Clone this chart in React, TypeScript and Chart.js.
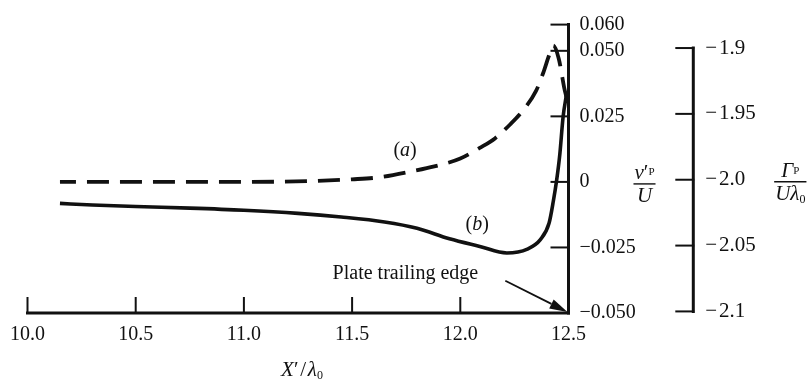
import React, { useEffect, useRef } from "react";
import { Chart, registerables } from "chart.js";

Chart.register(...registerables);

// Horizontal position X'/λ0 and tick values
const xTicks = [10.0, 10.5, 11.0, 11.5, 12.0, 12.5];

// Inner vertical axis: v'_P / U
const vTicks = [-0.05, -0.025, 0, 0.025, 0.05, 0.06];
const vTickLabels = ["−0.050", "−0.025", "0", "0.025", "0.050", "0.060"];

// Outer vertical axis: Γ_P / (U λ0)
const gammaTicks = [-2.1, -2.05, -2.0, -1.95, -1.9];
const gammaTickLabels = ["−\u200a2.1", "−\u200a2.05", "−\u200a2.0", "−\u200a1.95", "−\u200a1.9"];
const gammaMin = -2.1012;
const gammaMax = -1.8822;

// Curve (a), dashed
const curveAX = [10.15, 10.5, 11.0, 11.3, 11.5, 11.63, 11.78, 11.88, 12.0, 12.09, 12.16, 12.23, 12.29, 12.35, 12.385, 12.41, 12.43, 12.455, 12.48, 12.49];
const curveAV = [0, 0, 0, 0.0003, 0.001, 0.0018, 0.0041, 0.0059, 0.0089, 0.013, 0.0166, 0.0219, 0.0273, 0.0347, 0.042, 0.0482, 0.052, 0.047, 0.036, 0.0324];

// Curve (b), solid
const curveBX = [10.15, 10.3, 10.5, 10.75, 11.0, 11.25, 11.45, 11.65, 11.8, 11.95, 12.09, 12.215, 12.31, 12.37, 12.41, 12.43, 12.445, 12.46, 12.475, 12.49];
const curveBV = [-0.0082, -0.0088, -0.0094, -0.01, -0.0108, -0.012, -0.0134, -0.0153, -0.0177, -0.0217, -0.0246, -0.0271, -0.0256, -0.022, -0.0158, -0.0073, 0.0005, 0.0106, 0.0248, 0.033];

// Annotation anchors in data coordinates
const labelA = { x: 11.745, v: 0.0118 };
const labelB = { x: 12.078, v: -0.0165 };
const edgeText = { x: 11.41, v: -0.037 };
const arrowFrom = { x: 12.208, v: -0.0377 };
const arrowTo = { x: 12.5, v: -0.05 };

const SERIF = '"Liberation Serif", "Times New Roman", serif';
const font = (size: number, italic = false) => `${italic ? "italic " : ""}${size}px ${SERIF}`;
const INK = "#111";

type Run = { t: string; f: string; dy?: number };

function runsWidth(ctx: CanvasRenderingContext2D, runs: Run[]) {
  let w = 0;
  for (const r of runs) {
    ctx.font = r.f;
    w += ctx.measureText(r.t).width;
  }
  return w;
}

function drawRuns(ctx: CanvasRenderingContext2D, runs: Run[], x: number, y: number) {
  let cx = x;
  for (const r of runs) {
    ctx.font = r.f;
    ctx.fillText(r.t, cx, y + (r.dy || 0));
    cx += ctx.measureText(r.t).width;
  }
}

function drawFraction(ctx: CanvasRenderingContext2D, cx: number, barY: number, num: Run[], den: Run[]) {
  const wn = runsWidth(ctx, num);
  const wd = runsWidth(ctx, den);
  const half = Math.max(wn, wd) / 2 + 1;
  drawRuns(ctx, num, cx - wn / 2, barY - 5);
  drawRuns(ctx, den, cx - wd / 2, barY + 18);
  ctx.lineWidth = 1.4;
  ctx.beginPath();
  ctx.moveTo(cx - half, barY);
  ctx.lineTo(cx + half, barY);
  ctx.stroke();
}

function seg(ctx: CanvasRenderingContext2D, x1: number, y1: number, x2: number, y2: number) {
  ctx.beginPath();
  ctx.moveTo(x1, y1);
  ctx.lineTo(x2, y2);
  ctx.stroke();
}

const framePlugin = {
  id: "frame",
  afterDraw(chart: any) {
    const ctx: CanvasRenderingContext2D = chart.ctx;
    const xs = chart.scales.x;
    const ys = chart.scales.y;
    const gs = chart.scales.g;
    ctx.save();
    ctx.strokeStyle = INK;
    ctx.fillStyle = INK;
    ctx.lineCap = "square";

    const yBase = ys.getPixelForValue(-0.05);
    const yTop = ys.getPixelForValue(0.06);
    const xL = xs.getPixelForValue(10);
    const xR = xs.getPixelForValue(12.5);

    // bottom axis with inward ticks
    ctx.lineWidth = 3;
    seg(ctx, xL, yBase, xR, yBase);
    ctx.lineWidth = 2;
    for (const v of xTicks) {
      const px = xs.getPixelForValue(v);
      seg(ctx, px, yBase, px, yBase - 15);
    }

    // v'/U axis
    ctx.lineWidth = 3;
    seg(ctx, xR, yTop, xR, yBase);
    ctx.lineWidth = 2;
    for (const v of vTicks) {
      const py = ys.getPixelForValue(v);
      seg(ctx, xR, py, xR - 17, py);
    }

    // Γ axis (bracket)
    const gx = gs.left;
    ctx.lineWidth = 3;
    seg(ctx, gx, gs.getPixelForValue(-1.9), gx, gs.getPixelForValue(-2.1));
    ctx.lineWidth = 2;
    for (const v of gammaTicks) {
      const py = gs.getPixelForValue(v);
      seg(ctx, gx, py, gx - 17, py);
    }

    // curve labels
    ctx.textBaseline = "middle";
    const ra: Run[] = [
      { t: "(", f: font(20) },
      { t: "a", f: font(20, true) },
      { t: ")", f: font(20) },
    ];
    drawRuns(ctx, ra, xs.getPixelForValue(labelA.x) - runsWidth(ctx, ra) / 2, ys.getPixelForValue(labelA.v));
    const rb: Run[] = [
      { t: "(", f: font(20) },
      { t: "b", f: font(20, true) },
      { t: ")", f: font(20) },
    ];
    drawRuns(ctx, rb, xs.getPixelForValue(labelB.x) - runsWidth(ctx, rb) / 2, ys.getPixelForValue(labelB.v));

    // trailing edge note and arrow
    ctx.textBaseline = "alphabetic";
    ctx.font = font(20);
    ctx.fillText("Plate trailing edge", xs.getPixelForValue(edgeText.x), ys.getPixelForValue(edgeText.v));
    const ax1 = xs.getPixelForValue(arrowFrom.x);
    const ay1 = ys.getPixelForValue(arrowFrom.v);
    const ax2 = xs.getPixelForValue(arrowTo.x) - 1;
    const ay2 = ys.getPixelForValue(arrowTo.v) - 1;
    const ang = Math.atan2(ay2 - ay1, ax2 - ax1);
    const headLen = 18;
    const headHalf = 5;
    const bx = ax2 - headLen * Math.cos(ang);
    const by = ay2 - headLen * Math.sin(ang);
    ctx.lineWidth = 1.8;
    ctx.lineCap = "butt";
    seg(ctx, ax1, ay1, bx, by);
    ctx.beginPath();
    ctx.moveTo(ax2, ay2);
    ctx.lineTo(bx + headHalf * Math.sin(ang), by - headHalf * Math.cos(ang));
    ctx.lineTo(bx - headHalf * Math.sin(ang), by + headHalf * Math.cos(ang));
    ctx.closePath();
    ctx.fill();

    // axis titles
    const xt: Run[] = [
      { t: "X", f: font(21, true) },
      { t: "′", f: font(21) },
      { t: "\u200a/\u200a", f: font(21) },
      { t: "λ", f: font(21, true) },
      { t: "0", f: font(12), dy: 3 },
    ];
    drawRuns(ctx, xt, (xL + xR) / 2 - runsWidth(ctx, xt) / 2 + 4, yBase + 63);

    drawFraction(
      ctx,
      xR + 76,
      ys.getPixelForValue(0) + 2,
      [
        { t: "v", f: font(21, true) },
        { t: "′", f: font(21) },
        { t: "P", f: font(11), dy: -4 },
      ],
      [{ t: "U", f: font(21, true) }]
    );

    drawFraction(
      ctx,
      gx + 97,
      gs.getPixelForValue(-2.0) + 2,
      [
        { t: "Γ", f: font(21, true) },
        { t: "P", f: font(11), dy: -3 },
      ],
      [
        { t: "U", f: font(21, true) },
        { t: "λ", f: font(21, true) },
        { t: "0", f: font(12), dy: 3 },
      ]
    );

    ctx.restore();
  },
};

function labelFor(values: number[], labels: string[], v: number) {
  const i = values.findIndex((t) => Math.abs(t - v) < 1e-6);
  return i >= 0 ? labels[i] : "";
}

export default function App() {
  const canvasRef = useRef<HTMLCanvasElement | null>(null);

  useEffect(() => {
    const canvas = canvasRef.current;
    if (!canvas) return;
    const tickFont = { family: SERIF, size: 20 };
    const chart = new Chart(canvas, {
      type: "line",
      data: {
        datasets: [
          {
            label: "(a)",
            data: curveAX.map((x, i) => ({ x, y: curveAV[i] })),
            borderColor: INK,
            borderWidth: 3.8,
            borderDash: [22, 11],
            borderDashOffset: 6,
            pointRadius: 0,
            cubicInterpolationMode: "monotone",
            fill: false,
            yAxisID: "y",
          },
          {
            label: "(b)",
            data: curveBX.map((x, i) => ({ x, y: curveBV[i] })),
            borderColor: INK,
            borderWidth: 3.6,
            pointRadius: 0,
            cubicInterpolationMode: "monotone",
            fill: false,
            yAxisID: "y",
          },
        ],
      },
      options: {
        animation: false,
        responsive: false,
        devicePixelRatio: 1,
        layout: { padding: { left: 27, top: 14, right: 0, bottom: 0 } },
        plugins: { legend: { display: false }, tooltip: { enabled: false } },
        scales: {
          x: {
            type: "linear",
            position: "bottom",
            min: 10,
            max: 12.5,
            afterBuildTicks: (s: any) => {
              s.ticks = xTicks.map((value) => ({ value }));
            },
            afterFit: (s: any) => {
              s.height = 67;
            },
            ticks: {
              autoSkip: false,
              maxRotation: 0,
              padding: 10,
              color: INK,
              font: tickFont,
              callback: (v: any) => Number(v).toFixed(1),
            },
            grid: { display: false, drawTicks: false },
            border: { display: false },
          },
          y: {
            type: "linear",
            position: "right",
            weight: 0,
            min: -0.05,
            max: 0.06,
            afterBuildTicks: (s: any) => {
              s.ticks = vTicks.map((value) => ({ value }));
            },
            afterFit: (s: any) => {
              s.width = 124.8;
            },
            ticks: {
              autoSkip: false,
              padding: 11,
              color: INK,
              font: tickFont,
              callback: (v: any) => labelFor(vTicks, vTickLabels, Number(v)),
            },
            grid: { display: false, drawTicks: false },
            border: { display: false },
          },
          g: {
            type: "linear",
            position: "right",
            weight: 1,
            min: gammaMin,
            max: gammaMax,
            afterBuildTicks: (s: any) => {
              s.ticks = gammaTicks.map((value) => ({ value }));
            },
            afterFit: (s: any) => {
              s.width = 116.7;
            },
            ticks: {
              autoSkip: false,
              padding: 12,
              color: INK,
              font: { family: SERIF, size: 21 },
              callback: (v: any) => labelFor(gammaTicks, gammaTickLabels, Number(v)),
            },
            grid: { display: false, drawTicks: false },
            border: { display: false },
          },
        },
      } as any,
      plugins: [framePlugin],
    });
    return () => chart.destroy();
  }, []);

  return (
    <div style={{ position: "absolute", left: 0, top: 0, width: 810, height: 380, background: "#fff" }}>
      <canvas ref={canvasRef} width={810} height={380} style={{ display: "block" }} />
    </div>
  );
}
